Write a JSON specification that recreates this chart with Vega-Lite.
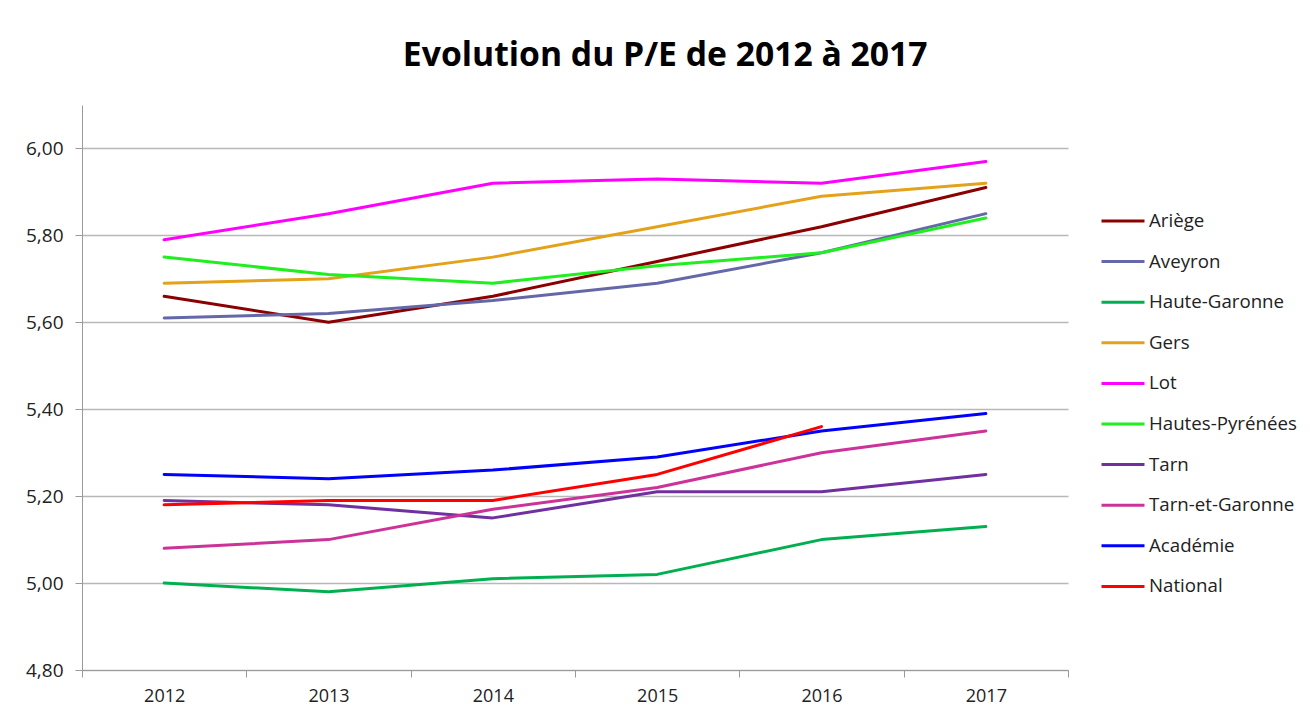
{
  "$schema": "https://vega.github.io/schema/vega-lite/v6.json",
  "autosize": {"type": "none"},
  "width": 986,
  "height": 565,
  "padding": {"left": 82, "top": 105, "right": 242, "bottom": 50},
  "background": "white",
  "title": {
    "text": "Evolution du P/E de 2012 à 2017",
    "font": "Open Sans",
    "fontSize": 33.7,
    "fontWeight": "bold",
    "color": "#000000",
    "anchor": "middle",
    "frame": "bounds",
    "offset": 32,
    "dx": 4
  },
  "config": {
    "view": {"stroke": null},
    "font": "Open Sans"
  },
  "data": {
    "values": [
      {"annee": "2012", "serie": "Ariège", "pe": 5.66},
      {"annee": "2013", "serie": "Ariège", "pe": 5.60},
      {"annee": "2014", "serie": "Ariège", "pe": 5.66},
      {"annee": "2015", "serie": "Ariège", "pe": 5.74},
      {"annee": "2016", "serie": "Ariège", "pe": 5.82},
      {"annee": "2017", "serie": "Ariège", "pe": 5.91},
      {"annee": "2012", "serie": "Aveyron", "pe": 5.61},
      {"annee": "2013", "serie": "Aveyron", "pe": 5.62},
      {"annee": "2014", "serie": "Aveyron", "pe": 5.65},
      {"annee": "2015", "serie": "Aveyron", "pe": 5.69},
      {"annee": "2016", "serie": "Aveyron", "pe": 5.76},
      {"annee": "2017", "serie": "Aveyron", "pe": 5.85},
      {"annee": "2012", "serie": "Haute-Garonne", "pe": 5.00},
      {"annee": "2013", "serie": "Haute-Garonne", "pe": 4.98},
      {"annee": "2014", "serie": "Haute-Garonne", "pe": 5.01},
      {"annee": "2015", "serie": "Haute-Garonne", "pe": 5.02},
      {"annee": "2016", "serie": "Haute-Garonne", "pe": 5.10},
      {"annee": "2017", "serie": "Haute-Garonne", "pe": 5.13},
      {"annee": "2012", "serie": "Gers", "pe": 5.69},
      {"annee": "2013", "serie": "Gers", "pe": 5.70},
      {"annee": "2014", "serie": "Gers", "pe": 5.75},
      {"annee": "2015", "serie": "Gers", "pe": 5.82},
      {"annee": "2016", "serie": "Gers", "pe": 5.89},
      {"annee": "2017", "serie": "Gers", "pe": 5.92},
      {"annee": "2012", "serie": "Lot", "pe": 5.79},
      {"annee": "2013", "serie": "Lot", "pe": 5.85},
      {"annee": "2014", "serie": "Lot", "pe": 5.92},
      {"annee": "2015", "serie": "Lot", "pe": 5.93},
      {"annee": "2016", "serie": "Lot", "pe": 5.92},
      {"annee": "2017", "serie": "Lot", "pe": 5.97},
      {"annee": "2012", "serie": "Hautes-Pyrénées", "pe": 5.75},
      {"annee": "2013", "serie": "Hautes-Pyrénées", "pe": 5.71},
      {"annee": "2014", "serie": "Hautes-Pyrénées", "pe": 5.69},
      {"annee": "2015", "serie": "Hautes-Pyrénées", "pe": 5.73},
      {"annee": "2016", "serie": "Hautes-Pyrénées", "pe": 5.76},
      {"annee": "2017", "serie": "Hautes-Pyrénées", "pe": 5.84},
      {"annee": "2012", "serie": "Tarn", "pe": 5.19},
      {"annee": "2013", "serie": "Tarn", "pe": 5.18},
      {"annee": "2014", "serie": "Tarn", "pe": 5.15},
      {"annee": "2015", "serie": "Tarn", "pe": 5.21},
      {"annee": "2016", "serie": "Tarn", "pe": 5.21},
      {"annee": "2017", "serie": "Tarn", "pe": 5.25},
      {"annee": "2012", "serie": "Tarn-et-Garonne", "pe": 5.08},
      {"annee": "2013", "serie": "Tarn-et-Garonne", "pe": 5.10},
      {"annee": "2014", "serie": "Tarn-et-Garonne", "pe": 5.17},
      {"annee": "2015", "serie": "Tarn-et-Garonne", "pe": 5.22},
      {"annee": "2016", "serie": "Tarn-et-Garonne", "pe": 5.30},
      {"annee": "2017", "serie": "Tarn-et-Garonne", "pe": 5.35},
      {"annee": "2012", "serie": "Académie", "pe": 5.25},
      {"annee": "2013", "serie": "Académie", "pe": 5.24},
      {"annee": "2014", "serie": "Académie", "pe": 5.26},
      {"annee": "2015", "serie": "Académie", "pe": 5.29},
      {"annee": "2016", "serie": "Académie", "pe": 5.35},
      {"annee": "2017", "serie": "Académie", "pe": 5.39},
      {"annee": "2012", "serie": "National", "pe": 5.18},
      {"annee": "2013", "serie": "National", "pe": 5.19},
      {"annee": "2014", "serie": "National", "pe": 5.19},
      {"annee": "2015", "serie": "National", "pe": 5.25},
      {"annee": "2016", "serie": "National", "pe": 5.36}
    ]
  },
  "mark": {"type": "line", "strokeWidth": 3, "strokeCap": "round", "strokeJoin": "round"},
  "encoding": {
    "x": {
      "field": "annee",
      "type": "ordinal",
      "bandPosition": 0.5,
      "scale": {"type": "band", "paddingInner": 0, "paddingOuter": 0},
      "axis": {
        "title": null,
        "labelAngle": 0,
        "labelFont": "Open Sans",
        "labelFontSize": 18,
        "labelColor": "#222222",
        "labelPadding": 10,
        "tickBand": "extent",
        "tickSize": 7,
        "tickColor": "#9a9a9a",
        "domainColor": "#9a9a9a",
        "grid": false
      }
    },
    "y": {
      "field": "pe",
      "type": "quantitative",
      "scale": {"domain": [4.8, 6.1], "nice": false, "zero": false},
      "axis": {
        "title": null,
        "values": [4.8, 5.0, 5.2, 5.4, 5.6, 5.8, 6.0],
        "labelExpr": "replace(format(datum.value, '.2f'), '.', ',')",
        "labelFont": "Open Sans",
        "labelFontSize": 19,
        "labelColor": "#222222",
        "labelPadding": 12,
        "tickSize": 7,
        "tickColor": "#9a9a9a",
        "domainColor": "#9a9a9a",
        "gridColor": "#b8b8b8",
        "gridWidth": 1.5
      }
    },
    "color": {
      "field": "serie",
      "type": "nominal",
      "scale": {
        "domain": ["Ariège", "Aveyron", "Haute-Garonne", "Gers", "Lot", "Hautes-Pyrénées", "Tarn", "Tarn-et-Garonne", "Académie", "National"],
        "range": ["#8b0000", "#6468a8", "#00b050", "#e3a21a", "#ff00ff", "#1fee1f", "#7030a0", "#cc3399", "#0000ff", "#ff0000"]
      },
      "legend": {
        "title": null,
        "orient": "none",
        "legendX": 1018,
        "legendY": 93,
        "symbolType": "stroke",
        "symbolSize": 1849,
        "symbolStrokeWidth": 3,
        "labelFont": "Open Sans",
        "labelFontSize": 18.7,
        "labelColor": "#222222",
        "labelOffset": 3,
        "rowPadding": 7.6,
        "labelLimit": 300
      }
    }
  }
}
